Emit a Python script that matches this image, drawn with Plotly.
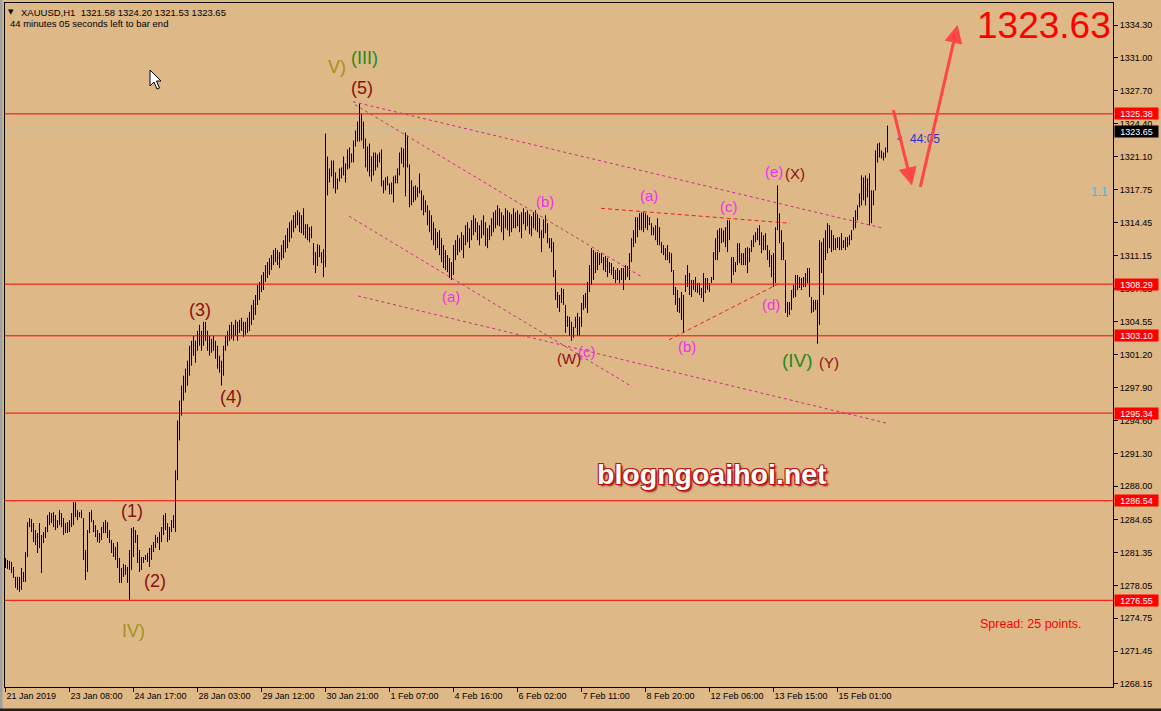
import plotly.graph_objects as go

# ---------------- data ----------------
symbol_info = "XAUUSD,H1  1321.58 1324.20 1321.53 1323.65"
timer_info = "44 minutes 05 seconds left to bar end"

highs = [
    1280.8, 1280.6, 1280.5, 1280.4, 1279.9, 1278.9, 1278.9, 1278.9, 1279.8, 1279.4,
    1281.4, 1284.4, 1284.8, 1284.7, 1284.3, 1283.6, 1283.3, 1284.3, 1283.1, 1283.4,
    1283.9, 1285.1, 1285.4, 1285.3, 1285.4, 1285.1, 1284.6, 1285.6, 1285.3, 1284.8,
    1284.3, 1284.4, 1284.6, 1285.3, 1286.4, 1286.4, 1285.6, 1285.4, 1285.6, 1284.8,
    1281.6, 1283.6, 1285.4, 1285.6, 1284.6, 1284.1, 1283.6, 1283.3, 1283.9, 1284.4,
    1284.6, 1284.4, 1283.6, 1282.6, 1282.3, 1281.9, 1282.4, 1280.8, 1279.8, 1280.2,
    1280.1, 1279.9, 1281.6, 1283.8, 1283.9, 1283.6, 1283.1, 1281.6, 1280.9, 1280.9,
    1281.1, 1281.3, 1281.8, 1282.1, 1282.4, 1283.1, 1282.9, 1283.4, 1283.9, 1285.1,
    1285.3, 1284.3, 1283.9, 1284.6, 1285.1, 1289.6, 1294.6, 1296.6, 1298.1, 1299.1,
    1299.8, 1300.6, 1302.1, 1302.6, 1303.1, 1302.6, 1303.6, 1304.2, 1303.6, 1304.5,
    1304.5, 1303.6, 1303.1, 1302.8, 1303.1, 1302.6, 1302.1, 1301.1, 1300.6, 1302.1,
    1303.1, 1303.6, 1304.2, 1304.5, 1304.2, 1304.7, 1304.5, 1304.7, 1304.9, 1304.5,
    1304.5, 1304.9, 1305.5, 1306.2, 1306.7, 1307.2, 1308.2, 1308.5, 1309.2, 1309.5,
    1310.2, 1310.5, 1310.9, 1311.2, 1311.7, 1311.9, 1311.7, 1311.5, 1312.2, 1312.7,
    1313.2, 1313.9, 1314.5, 1314.7, 1315.2, 1315.5, 1315.7, 1315.5, 1315.2, 1315.9,
    1314.3, 1314.3, 1314.0, 1314.1, 1312.4, 1311.5, 1312.3, 1312.2, 1311.5, 1311.8,
    1323.4, 1321.1, 1319.9, 1320.7, 1320.7, 1319.5, 1318.9, 1319.9, 1320.0, 1321.1,
    1320.4, 1321.8, 1322.0, 1321.4, 1322.7, 1323.7, 1324.6, 1326.4, 1325.4, 1324.6,
    1322.9, 1322.1, 1322.4, 1321.1, 1321.5, 1321.5, 1321.3, 1321.5, 1321.8, 1318.7,
    1319.0, 1319.1, 1318.4, 1318.5, 1319.1, 1319.2, 1319.9, 1321.5, 1322.0, 1321.9,
    1323.5, 1323.2, 1320.3, 1318.7, 1318.1, 1318.2, 1318.0, 1319.4, 1317.7, 1317.2,
    1316.7, 1316.2, 1315.7, 1315.2, 1314.5, 1313.9, 1313.5, 1313.7, 1312.9, 1312.2,
    1311.7, 1311.2, 1310.9, 1310.5, 1312.2, 1312.7, 1313.2, 1312.9, 1313.5, 1313.2,
    1314.2, 1314.5, 1313.9, 1314.7, 1315.2, 1314.9, 1314.5, 1314.2, 1314.7, 1315.2,
    1314.5, 1313.9, 1314.2, 1314.9, 1315.5, 1315.7, 1316.2, 1315.9, 1315.5, 1315.2,
    1315.9, 1315.7, 1315.5, 1315.3, 1315.9, 1315.5, 1315.7, 1315.3, 1315.5, 1315.9,
    1315.5, 1315.7, 1315.3, 1315.1, 1315.5, 1315.7, 1315.3, 1314.9, 1313.7, 1314.8,
    1315.2, 1314.4, 1312.9, 1312.9, 1312.5, 1309.7, 1307.5, 1307.2, 1307.9, 1307.8,
    1306.2, 1305.1, 1305.0, 1304.5, 1304.0, 1305.0, 1305.4, 1305.0, 1306.4, 1307.2,
    1307.4, 1308.5, 1310.2, 1311.9, 1311.7, 1311.5, 1311.5, 1311.4, 1311.4, 1311.0,
    1311.1, 1310.9, 1310.5, 1310.4, 1310.0, 1309.7, 1309.9, 1309.7, 1309.9, 1309.9,
    1310.2, 1310.1, 1311.4, 1312.9, 1313.7, 1315.0, 1315.0, 1315.4, 1315.5, 1315.5,
    1315.4, 1315.2, 1315.0, 1314.4, 1314.0, 1314.2, 1314.9, 1314.0, 1312.5, 1312.2,
    1311.9, 1312.2, 1311.5, 1311.4, 1309.7, 1308.0, 1307.7, 1306.9, 1307.5, 1307.2,
    1309.2, 1310.2, 1309.4, 1308.7, 1308.7, 1309.0, 1308.4, 1308.4, 1307.9, 1309.4,
    1308.9, 1308.9, 1308.4, 1309.0, 1311.5, 1312.9, 1313.7, 1313.9, 1313.9, 1313.7,
    1314.0, 1314.7, 1314.7, 1311.0, 1311.0, 1310.5, 1312.4, 1312.4, 1311.4, 1311.4,
    1311.9, 1312.0, 1311.9, 1312.7, 1313.2, 1313.5, 1313.9, 1314.2, 1313.5, 1313.2,
    1313.4, 1312.2, 1311.7, 1311.2, 1311.4, 1314.0, 1318.2, 1315.4, 1313.7, 1312.5,
    1310.7, 1306.5, 1306.5, 1307.7, 1308.2, 1309.2, 1309.2, 1309.0, 1308.9, 1309.0,
    1309.4, 1309.9, 1309.9, 1307.0, 1306.7, 1306.7, 1306.7, 1312.7, 1312.5, 1312.9,
    1313.7, 1314.4, 1314.2, 1313.7, 1313.2, 1312.9, 1313.0, 1313.0, 1313.4, 1312.7,
    1313.0, 1313.0, 1313.2, 1313.7, 1315.0, 1315.7, 1316.2, 1317.4, 1319.2, 1319.0,
    1319.2, 1318.9, 1319.4, 1317.7, 1317.7, 1321.7, 1322.4, 1322.5, 1321.7, 1321.5,
    1322.0, 1324.2,
]

lows = [
    1279.8, 1279.7, 1279.6, 1279.3, 1278.8, 1277.8, 1277.6, 1277.4, 1277.6, 1278.4,
    1278.4, 1280.9, 1283.9, 1283.4, 1282.4, 1282.1, 1281.3, 1281.8, 1279.3, 1282.3,
    1282.8, 1283.4, 1284.1, 1284.3, 1283.9, 1283.6, 1283.8, 1284.1, 1283.9, 1283.1,
    1283.3, 1283.3, 1283.4, 1283.9, 1284.1, 1284.9, 1284.6, 1284.9, 1284.8, 1280.6,
    1278.6, 1279.4, 1283.3, 1284.4, 1283.4, 1282.9, 1282.4, 1282.3, 1282.6, 1283.3,
    1283.3, 1282.8, 1282.3, 1281.3, 1280.9, 1280.6, 1279.8, 1278.3, 1278.3, 1278.9,
    1279.1, 1278.3, 1276.6, 1279.6, 1280.9, 1282.3, 1280.3, 1279.4, 1279.6, 1280.3,
    1280.6, 1280.4, 1279.9, 1280.6, 1281.4, 1281.8, 1282.3, 1281.6, 1282.4, 1283.1,
    1283.6, 1282.4, 1282.6, 1283.4, 1283.8, 1283.4, 1288.6, 1292.6, 1295.1, 1296.6,
    1297.4, 1298.1, 1299.1, 1300.1, 1301.1, 1300.4, 1301.6, 1302.1, 1301.6, 1302.1,
    1302.6, 1301.6, 1301.1, 1301.4, 1301.6, 1300.8, 1299.8, 1299.4, 1298.1, 1299.1,
    1301.6, 1302.1, 1302.6, 1302.8, 1302.6, 1303.1, 1302.6, 1303.4, 1303.6, 1303.0,
    1303.2, 1303.4, 1303.6, 1304.2, 1304.7, 1305.2, 1306.2, 1306.7, 1307.5, 1307.7,
    1308.5, 1308.9, 1309.2, 1309.7, 1310.2, 1310.5, 1310.2, 1309.9, 1310.7, 1310.9,
    1311.5, 1311.9, 1312.5, 1312.9, 1313.5, 1313.9, 1314.2, 1313.5, 1313.4, 1313.2,
    1312.9, 1312.7, 1312.5, 1312.9, 1310.2, 1309.4, 1310.1, 1311.0, 1310.4, 1309.0,
    1310.0, 1317.2, 1318.5, 1319.1, 1317.9, 1317.4, 1317.8, 1318.6, 1318.9, 1319.2,
    1318.5, 1319.8, 1319.9, 1320.5, 1320.5, 1322.1, 1322.6, 1322.6, 1322.7, 1321.9,
    1320.0, 1319.6, 1319.1, 1318.6, 1319.2, 1319.7, 1320.0, 1320.5, 1318.1, 1317.4,
    1317.7, 1318.2, 1317.3, 1317.3, 1316.5, 1318.4, 1318.4, 1319.2, 1320.4, 1320.0,
    1317.1, 1320.0, 1316.0, 1316.2, 1316.5, 1316.7, 1317.0, 1317.4, 1315.7, 1315.2,
    1315.5, 1314.2, 1313.5, 1312.7, 1312.2, 1311.7, 1311.9, 1311.2, 1310.5, 1309.9,
    1309.7, 1309.5, 1308.9, 1308.7, 1309.2, 1310.7, 1311.2, 1311.5, 1311.7, 1310.9,
    1312.2, 1312.5, 1311.9, 1312.7, 1313.2, 1313.5, 1312.7, 1312.2, 1312.9, 1313.2,
    1312.1, 1311.9, 1312.7, 1313.1, 1313.5, 1313.9, 1314.2, 1314.1, 1313.5, 1312.7,
    1313.9, 1313.7, 1313.1, 1313.5, 1313.9, 1313.9, 1314.1, 1313.5, 1312.9, 1314.3,
    1313.7, 1314.1, 1313.3, 1313.1, 1313.9, 1313.7, 1313.5, 1312.9, 1311.5, 1312.9,
    1313.4, 1312.4, 1311.9, 1311.5, 1309.0, 1306.7, 1305.9, 1305.5, 1306.4, 1306.2,
    1303.4, 1304.0, 1303.1, 1302.6, 1302.9, 1303.9, 1303.1, 1303.1, 1304.0, 1305.7,
    1305.9, 1305.4, 1307.5, 1308.2, 1308.7, 1309.4, 1309.7, 1310.2, 1310.4, 1309.7,
    1309.5, 1309.0, 1309.4, 1309.2, 1308.8, 1308.4, 1308.7, 1308.4, 1308.7, 1307.7,
    1308.7, 1309.0, 1308.7, 1310.5, 1312.0, 1312.4, 1313.0, 1313.7, 1313.7, 1313.5,
    1313.9, 1313.7, 1314.2, 1313.2, 1313.2, 1312.7, 1312.2, 1312.2, 1311.4, 1311.2,
    1310.7, 1310.7, 1310.4, 1309.5, 1307.2, 1306.2, 1305.5, 1305.4, 1304.7, 1303.4,
    1307.5, 1308.0, 1307.2, 1307.0, 1307.7, 1307.5, 1307.4, 1307.2, 1306.9, 1306.5,
    1307.4, 1307.7, 1307.5, 1308.4, 1308.7, 1310.7, 1310.7, 1311.5, 1312.4, 1312.5,
    1312.0, 1311.5, 1312.7, 1308.4, 1309.2, 1309.5, 1310.2, 1310.4, 1310.2, 1310.2,
    1310.2, 1309.4, 1310.5, 1311.5, 1312.0, 1312.5, 1312.7, 1312.2, 1311.4, 1311.7,
    1311.7, 1310.7, 1310.0, 1309.0, 1308.0, 1308.4, 1313.7, 1312.4, 1310.7, 1310.7,
    1305.4, 1305.0, 1305.2, 1305.7, 1306.9, 1307.0, 1307.7, 1307.9, 1307.7, 1308.0,
    1308.0, 1308.4, 1307.0, 1305.4, 1305.5, 1305.7, 1302.3, 1304.2, 1309.4, 1307.2,
    1310.7, 1311.4, 1311.9, 1311.5, 1311.7, 1311.7, 1311.9, 1311.7, 1311.7, 1311.9,
    1311.7, 1312.0, 1312.2, 1312.7, 1313.7, 1313.9, 1314.7, 1316.0, 1316.2, 1316.7,
    1316.2, 1317.0, 1314.2, 1314.4, 1316.2, 1317.7, 1320.5, 1321.0, 1320.9, 1320.7,
    1321.0, 1321.5,
]

time_labels = ["21 Jan 2019", "23 Jan 08:00", "24 Jan 17:00", "28 Jan 03:00",
               "29 Jan 12:00", "30 Jan 21:00", "1 Feb 07:00", "4 Feb 16:00",
               "6 Feb 02:00", "7 Feb 11:00", "8 Feb 20:00", "12 Feb 06:00",
               "13 Feb 15:00", "15 Feb 01:00"]
time_label_bars = [0, 32, 64, 96, 128, 160, 192, 224, 256, 288, 320, 352, 384, 416]

price_ticks = [1334.30, 1331.00, 1327.70, 1324.40, 1321.10, 1317.75, 1314.45,
               1311.15, 1307.85, 1304.55, 1301.20, 1297.90, 1294.60, 1291.30,
               1288.00, 1284.65, 1281.35, 1278.05, 1274.75, 1271.45, 1268.15]

level_prices = [1325.38, 1308.29, 1303.10, 1295.34, 1286.54, 1276.55]
bid_price = 1323.65
target_text = "1323.63"
spread_text = "Spread: 25 points."
timer_arrow = "<"
timer_short = "44:05"
fib_text = "1.1"
watermark = "blogngoaihoi.net"

# ---------------- styling ----------------
BG = "#DEB887"
FONT = "Liberation Sans"
MAGENTA = "#F030F0"
DARKRED = "#8B1010"
GREEN = "#208C20"
OLIVE = "#A39020"
TREND = "#CC2A8C"
PW, PH, ML, MT = 1108, 684, 5, 3


def px(x):
    return (x - ML) / PW


def py(y):
    return (MT + PH - y) / PH


fig = go.Figure()

xs, ys = [], []
for i, (h, l) in enumerate(zip(highs, lows)):
    xs += [i, i, None]
    ys += [l, h, None]
fig.add_trace(go.Scatter(x=xs, y=ys, mode="lines",
                         line=dict(color="black", width=1),
                         hoverinfo="skip", showlegend=False))

shapes = []
for p in level_prices:
    shapes.append(dict(type="line", xref="paper", x0=0, x1=1, yref="y", y0=p, y1=p,
                       line=dict(color="#FF0000", width=1), layer="above"))
shapes.append(dict(type="line", xref="paper", x0=0, x1=1, yref="y", y0=bid_price, y1=bid_price,
                   line=dict(color="#C0C0C0", width=1), layer="below"))

# dashed wave channels (bar index, price)
trend_lines = [
    (173.75, 1326.6, 438.75, 1313.9, TREND, "3px,3px"),
    (174.75, 1326.3, 318.25, 1309.0, TREND, "3px,3px"),
    (171.75, 1315.1, 313.25, 1298.0, TREND, "3px,3px"),
    (176.25, 1307.1, 441.25, 1294.3, TREND, "3px,3px"),
    (297.75, 1315.9, 392.25, 1314.4, "#E82020", "4px,3px"),
    (331.75, 1302.7, 387.25, 1308.4, "#E82020", "4px,3px"),
]
for x0, y0, x1, y1, c, d in trend_lines:
    shapes.append(dict(type="line", xref="x", yref="y", x0=x0, y0=y0, x1=x1, y1=y1,
                       line=dict(color=c, width=1, dash=d), layer="above"))

# window edges
shapes.append(dict(type="rect", xref="paper", yref="paper", x0=px(0), x1=px(2.5),
                   y0=py(711), y1=py(0), fillcolor="#A0A0A0", line=dict(width=0)))
shapes.append(dict(type="rect", xref="paper", yref="paper", x0=px(0), x1=px(1161),
                   y0=py(711), y1=py(708.5), fillcolor="#202020", line=dict(width=0)))

# mouse pointer
cursor_pts = [(150, 70), (150, 86), (154, 82), (157, 89), (159.5, 88), (156.5, 81), (161, 81)]
path = "M " + " L ".join(f"{px(a):.5f},{py(b):.5f}" for a, b in cursor_pts) + " Z"
shapes.append(dict(type="path", xref="paper", yref="paper", path=path,
                   fillcolor="white", line=dict(color="black", width=1), layer="above"))

annotations = []

# price boxes on the axis
for p in level_prices:
    annotations.append(dict(xref="paper", x=1, xanchor="left", xshift=1, yref="y", y=p,
                            text=f"{p:.2f}", showarrow=False, bgcolor="#FF0000",
                            font=dict(family=FONT, size=9, color="white"),
                            width=41, height=9, borderpad=1))
annotations.append(dict(xref="paper", x=1, xanchor="left", xshift=1, yref="y", y=bid_price,
                        text=f"{bid_price:.2f}", showarrow=False, bgcolor="#000000",
                        font=dict(family=FONT, size=9, color="white"),
                        width=41, height=9, borderpad=1))

# Elliott wave labels (bar index, price)
wave_labels = [
    ("V)", 165.75, 1330.1, OLIVE, 18),
    ("(III)", 179.25, 1331.0, GREEN, 18),
    ("(5)", 178.25, 1328.0, DARKRED, 18),
    ("(3)", 97.25, 1305.7, DARKRED, 18),
    ("(4)", 112.75, 1297.0, DARKRED, 18),
    ("(1)", 63.25, 1285.5, DARKRED, 18),
    ("(2)", 74.75, 1278.5, DARKRED, 18),
    ("IV)", 63.75, 1273.5, OLIVE, 18),
    ("(b)", 269.75, 1316.6, MAGENTA, 15),
    ("(a)", 222.75, 1307.0, MAGENTA, 15),
    ("(a)", 321.75, 1317.2, MAGENTA, 15),
    ("(c)", 361.75, 1316.1, MAGENTA, 15),
    ("(b)", 340.75, 1302.0, MAGENTA, 15),
    ("(d)", 382.75, 1306.2, MAGENTA, 15),
    ("(e)", 384.25, 1319.6, MAGENTA, 15),
    ("(c)", 290.75, 1301.5, MAGENTA, 15),
    ("(W)", 281.75, 1300.8, DARKRED, 15),
    ("(X)", 394.75, 1319.4, DARKRED, 15),
    ("(Y)", 411.75, 1300.4, DARKRED, 15),
    ("(IV)", 395.75, 1300.6, GREEN, 19),
]
for t, x, y, c, s in wave_labels:
    annotations.append(dict(xref="x", yref="y", x=x, y=y, text=t, showarrow=False,
                            font=dict(family=FONT, size=s, color=c)))

annotations += [
    dict(xref="x", yref="y", x=519.25, y=1334.3, text=target_text, showarrow=False,
         font=dict(family=FONT, size=37, color="#FF0000")),
    dict(xref="x", yref="y", x=546.75, y=1317.5, text=fib_text, showarrow=False,
         font=dict(family=FONT, size=12, color="#3DB8EA")),
    dict(xref="x", yref="y", x=486.0, y=1274.2, text=spread_text, showarrow=False,
         xanchor="left", font=dict(family=FONT, size=12.5, color="#FF0000")),
    dict(xref="x", yref="y", x=444.5, y=1322.9, text=timer_arrow, showarrow=False,
         xanchor="left", font=dict(family=FONT, size=9, color="#3333CC")),
    dict(xref="x", yref="y", x=451.0, y=1322.9, text=timer_short, showarrow=False,
         xanchor="left", font=dict(family=FONT, size=12, color="#3030C8")),
    dict(xref="x", yref="y", x=353.25, y=1289.2, text=watermark, showarrow=False,
         font=dict(family=FONT, size=28.5, color="white", weight="bold",
                   shadow="-1px -1px 0 #C01010, 1px -1px 0 #C01010, -1px 1px 0 #C01010, "
                          "1px 1px 0 #C01010, 2px 2px 2px #801010")),
    # red forecast arrows
    dict(xref="x", yref="y", x=453.25, y=1318.2, axref="x", ayref="y", ax=443.75, ay=1325.9,
         text="", showarrow=True, arrowhead=2, arrowsize=1.2, arrowwidth=3,
         arrowcolor="#FF4545"),
    dict(xref="x", yref="y", x=476.0, y=1334.3, axref="x", ayref="y", ax=457.25, ay=1317.9,
         text="", showarrow=True, arrowhead=2, arrowsize=1.2, arrowwidth=3,
         arrowcolor="#FF4545"),
    # header
    dict(xref="paper", yref="paper", x=px(11), y=py(12), text="\u25BC",
         showarrow=False, xanchor="center", yanchor="middle",
         font=dict(family="DejaVu Sans", size=7, color="black")),
    dict(xref="paper", yref="paper", x=px(19), y=py(12), text=symbol_info,
         showarrow=False, xanchor="left", yanchor="middle",
         font=dict(family=FONT, size=9.5, color="black")),
    dict(xref="paper", yref="paper", x=px(8), y=py(24), text=timer_info,
         showarrow=False, xanchor="left", yanchor="middle",
         font=dict(family=FONT, size=9.5, color="black")),
]

fig.update_layout(
    width=1161, height=711,
    margin=dict(l=ML, r=1161 - ML - PW, t=MT, b=711 - MT - PH, autoexpand=False),
    paper_bgcolor=BG, plot_bgcolor=BG, showlegend=False,
    shapes=shapes, annotations=annotations,
    xaxis=dict(range=[-0.25, 553.75], tickmode="array", tickvals=time_label_bars,
               ticktext=time_labels, ticks="outside", ticklen=4, tickcolor="black",
               ticklabelposition="outside right",
               tickfont=dict(family=FONT, size=9, color="black"),
               showgrid=False, zeroline=False, showline=True, linecolor="black",
               linewidth=1, mirror=True, fixedrange=True),
    yaxis=dict(side="right", range=[1267.847, 1336.508], tickmode="array",
               tickvals=price_ticks, ticktext=[f"{v:.2f}" for v in price_ticks],
               ticks="outside", ticklen=4, tickcolor="black",
               tickfont=dict(family=FONT, size=9, color="black"),
               showgrid=False, zeroline=False, showline=True, linecolor="black",
               linewidth=1, mirror=True, fixedrange=True),
)

fig.write_html("out.html", config={"displayModeBar": False},
               post_script="document.body.style.margin='0';document.body.style.overflow='hidden';")
